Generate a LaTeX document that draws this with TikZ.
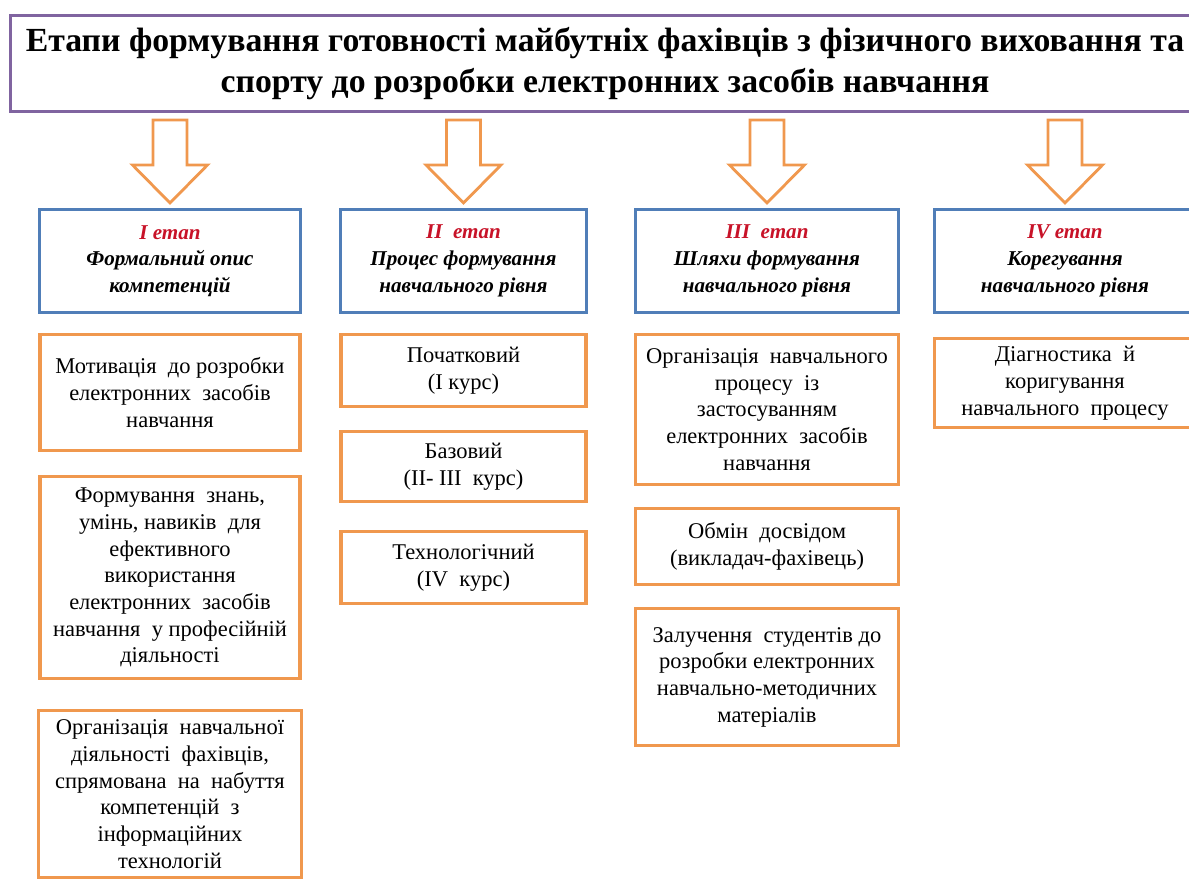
\documentclass[tikz,border=0pt]{standalone}
\usepackage{fontspec}
\setmainfont{Liberation Serif}
\usetikzlibrary{positioning,calc,shadows}

\definecolor{boxorange}{RGB}{240,152,78}
\definecolor{boxblue}{RGB}{80,126,184}
\definecolor{headpurple}{RGB}{128,100,160}
\definecolor{etapred}{RGB}{200,18,40}

\newcommand{\etap}[1]{\textcolor{etapred}{#1}}

\begin{document}
\begin{tikzpicture}[
    x=0.025cm, y=-0.025cm,
    node distance=0.5cm,
    headbox/.style={draw=headpurple, line width=2.2pt, fill=white, align=center,
      minimum width=29.7cm, minimum height=2.4cm,
      font=\fontsize{24}{29}\selectfont\bfseries},
    stagebox/.style={draw=boxblue, line width=2pt, fill=white, align=center,
      minimum width=6.53cm, minimum height=2.58cm,
      font=\fontsize{15}{19}\selectfont\bfseries\itshape,
      drop shadow={opacity=0.15, shadow xshift=1pt, shadow yshift=-1pt}},
    itembox/.style={draw=boxorange, line width=2.4pt, fill=white, align=center,
      font=\fontsize{16}{19}\selectfont,
      drop shadow={opacity=0.15, shadow xshift=1pt, shadow yshift=-1pt}},
    bigarrow/.style={draw=boxorange, line width=2pt, fill=white}
    ]

    \useasboundingbox (0,0) rectangle (1189,882);

    \node [headbox] (head) at (605,63.5)
      {Етапи формування готовності майбутніх фахівців з фізичного виховання та\\
       спорту до розробки електронних засобів навчання};

    % stages
    \node [stagebox] (st1) at (170,261) {\etap{I етап}\\Формальний опис\\компетенцій};
    \node [stagebox, minimum width=6.15cm] (st2) at (463.5,261) {\etap{II\ \ етап}\\Процес формування\\навчального рівня};
    \node [stagebox, minimum width=6.58cm] (st3) at (767,261) {\etap{III\ \ етап}\\Шляхи формування\\навчального рівня};
    \node [stagebox] (st4) at (1065,261) {\etap{IV етап}\\Корегування\\навчального рівня};

    \foreach \s in {st1,st2,st3,st4}
      \draw [bigarrow] ($(\s.north)+(0,-5)$) -- ++(-37.5,-38) -- ++(20.5,0) -- ++(0,-45)
        -- ++(34,0) -- ++(0,45) -- ++(20.5,0) -- cycle;

    % I
    \node [itembox, minimum width=6.49cm, minimum height=2.89cm, below=0.475cm of st1] (m1a)
      {Мотивація\ \ до розробки\\електронних\ \ засобів\\навчання};
    \node [itembox, minimum width=6.49cm, minimum height=5.04cm, below=0.575cm of m1a] (m1b)
      {Формування\ \ знань,\\умінь, навиків\ \ для\\ефективного\\використання\\електронних\ \ засобів\\навчання\ \ у професійній\\діяльності};
    \node [itembox, minimum width=6.57cm, minimum height=4.17cm, below=0.725cm of m1b] (m1c)
      {Організація\ \ навчальної\\діяльності\ \ фахівців,\\спрямована\ \ на\ \ набуття\\компетенцій\ \ з\\інформаційних\\технологій};

    % II
    \node [itembox, minimum width=6.12cm, minimum height=1.79cm, below=0.475cm of st2] (m2a)
      {Початковий\\(I курс)};
    \node [itembox, minimum width=6.12cm, minimum height=1.74cm, below=0.55cm of m2a] (m2b)
      {Базовий\\(II- III\ \ курс)};
    \node [itembox, minimum width=6.12cm, minimum height=1.79cm, below=0.675cm of m2b] (m2c)
      {Технологічний\\(IV\ \ курс)};

    % III
    \node [itembox, minimum width=6.57cm, minimum height=3.74cm, below=0.475cm of st3] (m3a)
      {Організація\ \ навчального\\процесу\ \ із\\застосуванням\\електронних\ \ засобів\\навчання};
    \node [itembox, minimum width=6.57cm, minimum height=1.89cm, below=0.525cm of m3a] (m3b)
      {Обмін\ \ досвідом\\(викладач-фахівець)};
    \node [itembox, minimum width=6.57cm, minimum height=3.42cm, below=0.525cm of m3b] (m3c)
      {Залучення\ \ студентів до\\розробки електронних\\навчально-методичних\\матеріалів};

    % IV
    \node [itembox, minimum width=6.52cm, minimum height=2.22cm, below=0.575cm of st4] (m4a)
      {Діагностика\ \ й\\коригування\\навчального\ \ процесу};
\end{tikzpicture}
\end{document}
